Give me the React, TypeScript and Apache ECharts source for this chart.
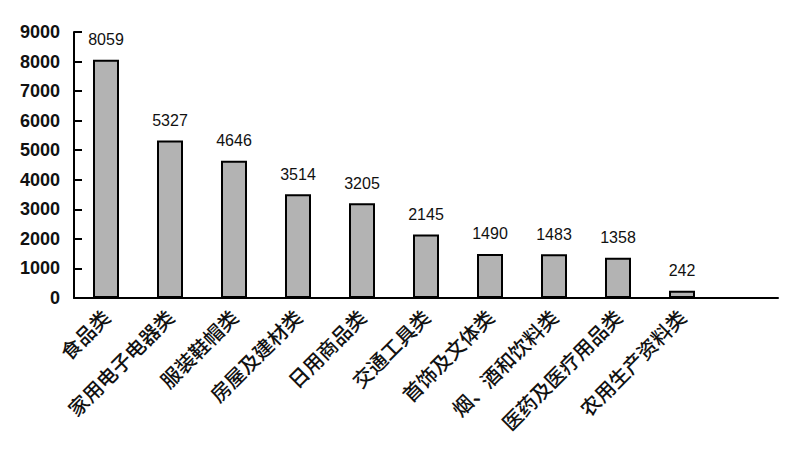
import React, { useEffect, useRef } from "react";
import * as echarts from "echarts";

const categories = [
  "食品类",
  "家用电子电器类",
  "服装鞋帽类",
  "房屋及建材类",
  "日用商品类",
  "交通工具类",
  "首饰及文体类",
  "烟、酒和饮料类",
  "医药及医疗用品类",
  "农用生产资料类",
  "",
];
const values: (number | null)[] = [8059, 5327, 4646, 3514, 3205, 2145, 1490, 1483, 1358, 242, null];
const yMin = 0;
const yMax = 9000;
const yInterval = 1000;

export default function App() {
  const ref = useRef<HTMLDivElement>(null);
  useEffect(() => {
    if (!ref.current) return;
    const chart = echarts.init(ref.current, null, { renderer: "svg" });
    chart.setOption({
      animation: false,
      backgroundColor: "#ffffff",
      grid: { left: 66, right: 8, top: 24, bottom: 145, containLabel: false },
      xAxis: {
        type: "category",
        data: categories,
        boundaryGap: true,
        axisLine: { lineStyle: { color: "#000", width: 2 } },
        axisTick: { inside: true, length: 7, lineStyle: { color: "#000", width: 2 } },
        axisLabel: {
          interval: 0,
          rotate: 45,
          margin: 15,
          color: "#111",
          fontSize: 20,
          fontFamily: "Noto Sans CJK SC",
          fontWeight: 500,
        },
      },
      yAxis: {
        type: "value",
        min: yMin,
        max: yMax,
        interval: yInterval,
        axisLine: { show: true, lineStyle: { color: "#000", width: 2 } },
        axisTick: { show: true, inside: true, length: 8, lineStyle: { color: "#000", width: 2 } },
        splitLine: { show: false },
        axisLabel: {
          margin: 14,
          color: "#111",
          fontSize: 18,
          fontFamily: "Liberation Sans",
          fontWeight: "bold",
          formatter: (v: number) => String(v),
        },
      },
      series: [
        {
          type: "bar",
          data: values,
          barWidth: 26,
          itemStyle: { color: "#b3b3b3", borderColor: "#000", borderWidth: 2 },
          label: {
            show: true,
            position: "top",
            distance: 12,
            color: "#111",
            fontSize: 16,
            fontFamily: "Liberation Sans",
          },
        },
      ],
    });
    return () => chart.dispose();
  }, []);
  return <div ref={ref} style={{ width: 778, height: 435 }} />;
}
